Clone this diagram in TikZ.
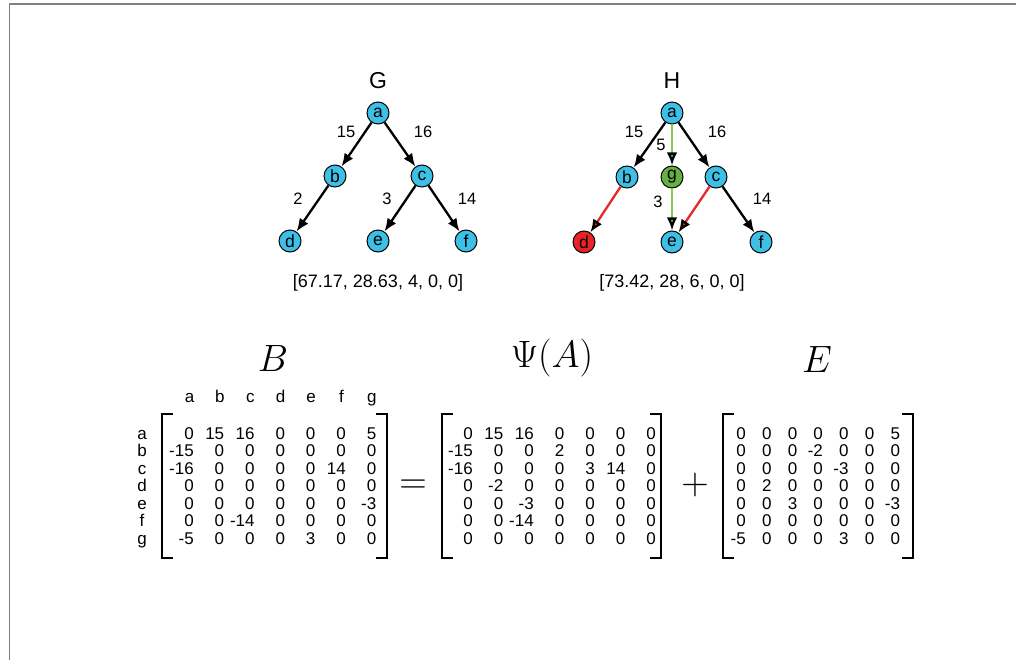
\documentclass[tikz,border=0pt]{standalone}
\usepackage{fontspec}
\setmainfont{Liberation Sans}
\usetikzlibrary{arrows.meta}
\definecolor{vertexblue}{RGB}{62,192,230}
\definecolor{vertexgreen}{RGB}{100,176,66}
\definecolor{vertexred}{RGB}{232,34,38}
\definecolor{edgegreen}{RGB}{128,202,86}
\definecolor{edgered}{RGB}{226,40,44}
\definecolor{framegray}{RGB}{128,128,128}
\newcommand{\mbig}[1]{\scalebox{1.53}{$#1$}}
\tikzset{
    vertex/.style={
        circle,
        draw,
        fill=vertexblue,
        minimum size=22pt,
        inner sep=0pt,
        line width=1pt,
        font=\fontsize{17.5}{17.5}\selectfont
    },
    link/.style={
        -{Latex[length=13pt,width=10.5pt,color=black]},
        line width=2.3pt
    },
    weight/.style={
        font=\fontsize{16.5}{16.5}\selectfont
    },
    gtitle/.style={
        font=\fontsize{23}{23}\selectfont
    },
    score/.style={
        font=\fontsize{18}{18}\selectfont
    },
    entry/.style={
        anchor=base east,
        inner sep=0pt,
        font=\fontsize{17}{17}\selectfont
    },
    header/.style={
        anchor=base,
        inner sep=0pt,
        font=\fontsize{17}{17}\selectfont
    },
    bracket/.style={
        line width=1.8pt
    },
    mtitle/.style={
        inner sep=0pt,
        font=\fontsize{24.88}{25}\selectfont
    }
}

\begin{document}
\begin{tikzpicture}[x=1pt,y=-1pt]
\useasboundingbox (0,0) rectangle (1016,660);
\draw[framegray,line width=1.5pt] (1016,4) -- (9.5,4) -- (9.5,660);

% graph G
\node[gtitle] (Gtitle) at (378,81) {G};
\node[vertex] (Ga) at (378,113) {a};
\node[vertex] (Gb) at (335,176) {b};
\node[vertex] (Gc) at (422,176) {c};
\node[vertex] (Gd) at (290,241) {d};
\node[vertex] (Ge) at (378,241) {e};
\node[vertex] (Gf) at (466,241) {f};
\path[link]
  (Ga) edge (Gb)
  (Ga) edge (Gc)
  (Gb) edge (Gd)
  (Gc) edge (Ge)
  (Gc) edge (Gf);
\node[weight] (wGab) at (346,132) {15};
\node[weight] (wGac) at (423,132) {16};
\node[weight] (wGbd) at (298,199) {2};
\node[weight] (wGce) at (387,199) {3};
\node[weight] (wGcf) at (467,199) {14};
\node[score] (Gscore) at (378,283) {[67.17, 28.63, 4, 0, 0]};

% graph H
\node[gtitle] (Htitle) at (672,81) {H};
\node[vertex] (Ha) at (672,113) {a};
\node[vertex] (Hb) at (627,177) {b};
\node[vertex,fill=vertexgreen] (Hg) at (672,177) {g};
\node[vertex] (Hc) at (716,177) {c};
\node[vertex,fill=vertexred] (Hd) at (584,242) {d};
\node[vertex] (He) at (672,242) {e};
\node[vertex] (Hf) at (761,242) {f};
\path[link]
  (Ha) edge (Hb)
  (Ha) edge (Hc)
  (Hc) edge (Hf);
\path[link,edgegreen]
  (Ha) edge (Hg)
  (Hg) edge (He);
\path[link,edgered]
  (Hb) edge (Hd)
  (Hc) edge (He);
\node[weight] (wHab) at (634,132) {15};
\node[weight] (wHac) at (717,132) {16};
\node[weight] (wHag) at (661,145) {5};
\node[weight] (wHge) at (658,202) {3};
\node[weight] (wHcf) at (762,199) {14};
\node[score] (Hscore) at (672,283) {[73.42, 28, 6, 0, 0]};

% B
\node[mtitle] (Btitle) at (273,358) {\mbig{B}};
\foreach \h [count=\j] in {a,b,c,d,e,f,g} {
  \node[header] (Bcol-\h) at ({189.5+30.4*(\j-1)},402.5) {\h};
  \node[header] (Brow-\h) at (142,{439+17.5*(\j-1)}) {\h};
}
\foreach \r [count=\i] in {{0,15,16,0,0,0,5},{-15,0,0,0,0,0,0},{-16,0,0,0,0,14,0},{0,0,0,0,0,0,0},{0,0,0,0,0,0,-3},{0,0,-14,0,0,0,0},{-5,0,0,0,3,0,0}}
  \foreach \v [count=\j] in \r
    \node[entry] (B-\i-\j) at ({194+30.4*(\j-1)},{439+17.5*(\i-1)}) {\v};
\draw[bracket] (173,414) -| (162,558) -- (173,558);
\draw[bracket] (376,414) -| (387,558) -- (376,558);

\node[mtitle] (eq) at (413,487) {\mbig{=}};

% Psi(A)
\node[mtitle] (Ptitle) at (552,358) {\mbig{\Psi(A)}};
\foreach \r [count=\i] in {{0,15,16,0,0,0,0},{-15,0,0,2,0,0,0},{-16,0,0,0,3,14,0},{0,-2,0,0,0,0,0},{0,0,-3,0,0,0,0},{0,0,-14,0,0,0,0},{0,0,0,0,0,0,0}}
  \foreach \v [count=\j] in \r
    \node[entry] (P-\i-\j) at ({473+30.5*(\j-1)},{439+17.5*(\i-1)}) {\v};
\draw[bracket] (453,414) -| (442,558) -- (453,558);
\draw[bracket] (650,414) -| (661,558) -- (650,558);

\node[mtitle] (plus) at (695,485) {\mbig{+}};

% E
\node[mtitle] (Etitle) at (817,359) {\mbig{E}};
\foreach \r [count=\i] in {{0,0,0,0,0,0,5},{0,0,0,-2,0,0,0},{0,0,0,0,-3,0,0},{0,2,0,0,0,0,0},{0,0,3,0,0,0,-3},{0,0,0,0,0,0,0},{-5,0,0,0,3,0,0}}
  \foreach \v [count=\j] in \r
    \node[entry] (E-\i-\j) at ({746+25.7*(\j-1)},{439+17.5*(\i-1)}) {\v};
\draw[bracket] (734,414) -| (723,558) -- (734,558);
\draw[bracket] (902,414) -| (913,558) -- (902,558);
\end{tikzpicture}
\end{document}
